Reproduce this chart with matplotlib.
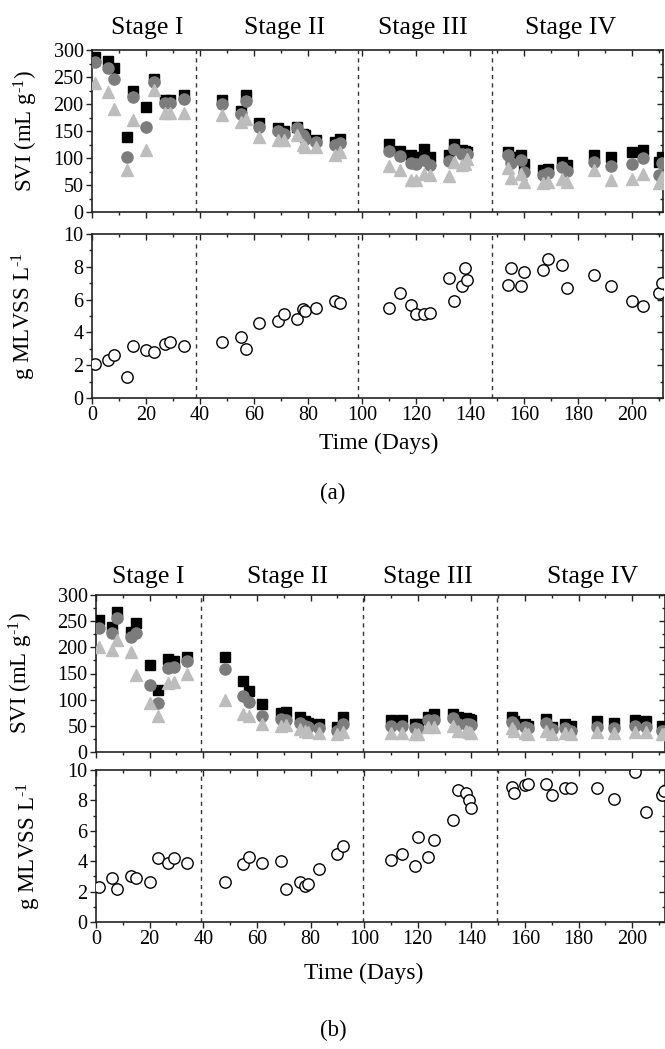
import matplotlib
matplotlib.use('Agg')
import matplotlib.pyplot as plt
import matplotlib.transforms as mtransforms
from matplotlib.ticker import MultipleLocator

# ---- data ----
stage_names = ['Stage I', 'Stage II', 'Stage III', 'Stage IV']

# panel (a)
days_a = [1, 6, 8, 13, 15, 20, 23, 27, 29, 34,
          48, 55, 57, 62, 69, 71, 76, 78, 79, 83, 90, 92,
          110, 114, 118, 120, 123, 125, 132, 134, 137, 138, 139,
          154, 155, 159, 160, 167, 169, 174, 176, 186, 192, 200, 204, 210, 211]
svi_sq_a = [287, 280, 267, 139, 224, 194, 246, 208, 207, 217,
            207, 187, 216, 164, 156, 150, 158, 145, 142, 133, 130, 136,
            126, 113, 105, 102, 116, 102, 105, 126, 114, 113, 111,
            111, 102, 105, 88, 77, 80, 93, 87, 105, 102, 111, 114, 93, 102]
svi_ci_a = [278, 266, 247, 101, 213, 158, 240, 202, 201, 210,
            200, 182, 205, 158, 150, 145, 156, 142, 136, 130, 124, 128,
            113, 104, 90, 88, 96, 87, 95, 116, 107, 105, 107,
            105, 90, 96, 75, 68, 72, 84, 76, 92, 85, 88, 100, 69, 90]
svi_tr_a = [239, 223, 190, 77, 170, 114, 226, 184, 184, 184,
            179, 166, 173, 139, 134, 133, 142, 124, 121, 121, 106, 111,
            85, 77, 59, 59, 71, 68, 67, 92, 87, 88, 99,
            82, 63, 71, 56, 53, 56, 62, 56, 77, 59, 61, 71, 53, 65]
mlvss_a = [2.1, 2.3, 2.6, 1.3, 3.2, 2.9, 2.8, 3.3, 3.4, 3.2,
           3.4, 3.7, 3.0, 4.6, 4.7, 5.1, 4.8, 5.4, 5.3, 5.5, 5.9, 5.8,
           5.5, 6.4, 5.7, 5.1, 5.1, 5.2, 7.3, 5.9, 6.8, 7.9, 7.2,
           6.9, 7.9, 6.8, 7.7, 7.8, 8.5, 8.1, 6.7, 7.5, 6.8, 5.9, 5.6, 6.4, 7.0]
bounds_a = [38.5, 98.5, 148.2]

# panel (b)
days_b = [1, 6, 8, 13, 15, 20, 23, 27, 29, 34,
          48, 55, 57, 62, 69, 71, 76, 78, 79, 83, 90, 92,
          110, 114, 119, 120, 124, 126, 133, 135, 138, 139, 140,
          155, 156, 160, 161, 168, 170, 175, 177, 187, 193, 201, 205, 211, 212]
svi_sq_b = [253, 239, 268, 230, 247, 167, 118, 177, 174, 182,
            181, 135, 116, 91, 75, 77, 67, 59, 56, 54, 48, 66,
            62, 62, 54, 54, 66, 72, 72, 67, 65, 64, 62,
            67, 60, 54, 50, 64, 48, 54, 50, 59, 56, 62, 59, 50, 48]
svi_ci_b = [237, 228, 257, 220, 228, 128, 94, 161, 163, 174,
            158, 107, 96, 69, 63, 61, 56, 50, 48, 45, 40, 53,
            50, 50, 45, 43, 61, 62, 65, 54, 54, 53, 51,
            57, 52, 48, 45, 56, 43, 45, 41, 48, 45, 49, 48, 41, 40]
svi_tr_b = [200, 195, 214, 191, 147, 94, 69, 132, 134, 150,
            100, 72, 68, 54, 50, 51, 43, 40, 38, 36, 34, 38,
            37, 37, 35, 35, 48, 47, 50, 40, 40, 38, 37,
            45, 40, 36, 35, 41, 35, 36, 35, 38, 36, 38, 38, 35, 35]
mlvss_b = [2.3, 2.9, 2.2, 3.0, 2.9, 2.6, 4.2, 3.9, 4.2, 3.9,
           2.6, 3.8, 4.3, 3.9, 4.0, 2.2, 2.6, 2.4, 2.5, 3.5, 4.5, 5.0,
           4.1, 4.5, 3.7, 5.6, 4.3, 5.4, 6.7, 8.7, 8.5, 8.0, 7.5,
           8.9, 8.5, 9.0, 9.05, 9.05, 8.35, 8.8, 8.8, 8.8, 8.1, 9.85, 7.25, 8.35, 8.6]
bounds_b = [39, 99.4, 149.6]

plt.rcParams['font.family'] = ['Liberation Serif', 'DejaVu Serif']
plt.rcParams['mathtext.fontset'] = 'custom'
plt.rcParams['mathtext.rm'] = 'Liberation Serif'
plt.rcParams['mathtext.it'] = 'Liberation Serif:italic'

W, H = 665, 1049
fig = plt.figure(figsize=(W / 100, H / 100), dpi=100)

SPINE = '#222222'


def add_px_axes(left, right, top, bottom):
    # axes placed in pixel coordinates (top-left origin)
    return fig.add_axes([left / W, 1 - bottom / H, (right - left) / W, (bottom - top) / H])


def style_axes(ax, xmax, ymax, ymajor, yminor, show_xlabels):
    ax.set_xlim(0, xmax)
    ax.set_ylim(0, ymax)
    ax.xaxis.set_major_locator(MultipleLocator(20))
    ax.xaxis.set_minor_locator(MultipleLocator(10))
    ax.yaxis.set_major_locator(MultipleLocator(ymajor))
    ax.yaxis.set_minor_locator(MultipleLocator(yminor))
    ax.tick_params(which='major', direction='out', length=4, width=1, color=SPINE,
                   labelsize=14.5, pad=2)
    ax.tick_params(which='minor', direction='out', length=2.5, width=1, color=SPINE)
    if not show_xlabels:
        ax.tick_params(axis='x', labelbottom=False)
    for s in ax.spines.values():
        s.set_color(SPINE)
        s.set_linewidth(1.2)
    # mirrored ticks pointing inward on top and right
    top = ax.secondary_xaxis('top')
    top.xaxis.set_major_locator(MultipleLocator(20))
    top.xaxis.set_minor_locator(MultipleLocator(10))
    top.tick_params(which='major', direction='in', length=4, width=1, color=SPINE, labeltop=False)
    top.tick_params(which='minor', direction='in', length=2.5, width=1, color=SPINE)
    top.spines['top'].set_visible(False)
    right = ax.secondary_yaxis('right')
    right.yaxis.set_major_locator(MultipleLocator(ymajor))
    right.yaxis.set_minor_locator(MultipleLocator(yminor))
    right.tick_params(which='major', direction='in', length=4, width=1, color=SPINE, labelright=False)
    right.tick_params(which='minor', direction='in', length=2.5, width=1, color=SPINE)
    right.spines['right'].set_visible(False)


def draw_panel(boxes, xmax, days, sq, ci, tr, ml, bounds, stage_x, stage_y, ylab_x):
    ax1 = add_px_axes(*boxes[0])
    ax2 = add_px_axes(*boxes[1])

    ax1.plot(days, sq, 's', color='black', markersize=7.4, linestyle='none', zorder=3)
    ax1.plot(days, ci, 'o', color='#7c7c7c', markersize=8.0, linestyle='none', zorder=4)
    ax1.plot(days, tr, '^', color='#bdbdbd', markersize=8.6, linestyle='none', zorder=5)
    ax2.plot(days, ml, 'o', markerfacecolor='white', markeredgecolor='black',
             markeredgewidth=1, markersize=8.2, linestyle='none', zorder=3)

    for ax in (ax1, ax2):
        for b in bounds:
            ax.axvline(b, color='#333333', linewidth=1, linestyle=(0, (3, 3)), zorder=1)

    style_axes(ax1, xmax, 300, 50, 25, False)
    style_axes(ax2, xmax, 10, 2, 1, True)

    ax1.set_ylabel(r'SVI (mL g$^{\text{-}1}$)', fontsize=16.5)
    ax2.set_ylabel(r'g MLVSS L$^{\text{-}1}$', fontsize=16.5)
    ax1.yaxis.set_label_coords(ylab_x[0], 0.5)
    ax2.yaxis.set_label_coords(ylab_x[1], 0.5)

    trans = mtransforms.blended_transform_factory(ax1.transData, ax1.transAxes)
    for name, x in zip(stage_names, stage_x):
        ax1.text(x, stage_y, name, transform=trans, ha='center', va='baseline', fontsize=18.5)
    return ax1, ax2


# panel (a)
draw_panel([(92, 663, 50, 212), (92, 663, 234, 398)], 211.4,
           days_a, svi_sq_a, svi_ci_a, svi_tr_a, mlvss_a, bounds_a,
           [20.3, 71.4, 122.5, 177.3], 1.097, (-0.091, -0.095))
fig.text(379 / W, 1 - 443 / H, 'Time (Days)', ha='center', va='center', fontsize=17)
fig.text(333 / W, 1 - 493 / H, '(a)', ha='center', va='center', fontsize=16.5)

# panel (b)
draw_panel([(96, 665, 595, 752), (96, 665, 770, 922)], 212.2,
           days_b, svi_sq_b, svi_ci_b, svi_tr_b, mlvss_b, bounds_b,
           [19.4, 71.3, 123.9, 185.0], 1.075, (-0.107, -0.093))
fig.text(364 / W, 1 - 973 / H, 'Time (Days)', ha='center', va='center', fontsize=17)
fig.text(333 / W, 1 - 1030 / H, '(b)', ha='center', va='center', fontsize=16.5)

fig.savefig('out.png', dpi=100)
